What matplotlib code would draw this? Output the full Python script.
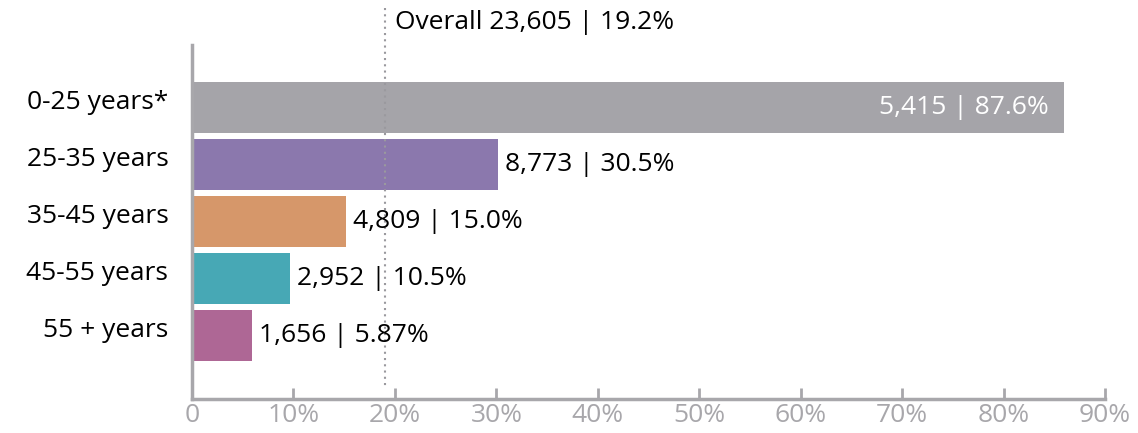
import matplotlib.pyplot as plt
from matplotlib.ticker import FuncFormatter
from matplotlib.transforms import ScaledTranslation

plt.rcParams['font.family'] = ['Open Sans', 'DejaVu Sans']

# data
groups = ['0-25 years*', '25-35 years', '35-45 years', '45-55 years', '55 + years']
bar_pct = [86.0, 30.2, 15.2, 9.7, 5.9]
counts = ['5,415', '8,773', '4,809', '2,952', '1,656']
pct_labels = ['87.6%', '30.5%', '15.0%', '10.5%', '5.87%']
colors = ['#a5a4a9', '#8b78ad', '#d6976a', '#47a8b5', '#ae6795']
overall_pct = 19.0
overall_label = 'Overall 23,605 | 19.2%'

axis_grey = '#a8a7ab'
fs = 19

fig = plt.figure(figsize=(11.38, 4.33), dpi=100)
ax = fig.add_axes([0.1687, 0.0785, 0.8023, 0.8175])

ypos = list(range(len(groups)))
ax.barh(ypos, bar_pct, height=0.9, color=colors)

for i, (v, c, p) in enumerate(zip(bar_pct, counts, pct_labels)):
    txt = c + ' | ' + p
    if i == 0:
        ax.text(v - 1.5, i, txt, ha='right', va='center', color='white', fontsize=fs)
    else:
        ax.text(v + 0.7, i, txt, ha='left', va='center', color='black', fontsize=fs)

ax.set_xlim(0, 90)
ax.set_ylim(len(groups) - 1 + 1.11, -1.1)

# overall reference line
ax.vlines(overall_pct, -1.75, 4.92, colors='#9a999e', linestyles=(0, (1, 2)),
          linewidth=1.5, clip_on=False)
ax.text(overall_pct + 1.0, -1.5, overall_label, ha='left', va='center',
        fontsize=fs, color='black', clip_on=False)

ax.set_yticks(ypos)
ax.set_yticklabels(groups, fontsize=fs)
ax.tick_params(axis='y', length=0, pad=17)
# category names sit a little above the bar centres
for lbl in ax.get_yticklabels():
    lbl.set_transform(lbl.get_transform() + ScaledTranslation(0, 0.08, fig.dpi_scale_trans))

ax.set_xticks(range(0, 91, 10))
ax.xaxis.set_major_formatter(FuncFormatter(lambda x, _: '0' if x == 0 else '%d%%' % x))
ax.tick_params(axis='x', direction='in', length=8, width=2, color=axis_grey,
               labelcolor=axis_grey, labelsize=fs, pad=3)

for s in ['top', 'right']:
    ax.spines[s].set_visible(False)
ax.spines['left'].set_color(axis_grey)
ax.spines['left'].set_linewidth(2.5)
ax.spines['bottom'].set_color(axis_grey)
ax.spines['bottom'].set_linewidth(2.5)

fig.savefig('out.png', dpi=100)
